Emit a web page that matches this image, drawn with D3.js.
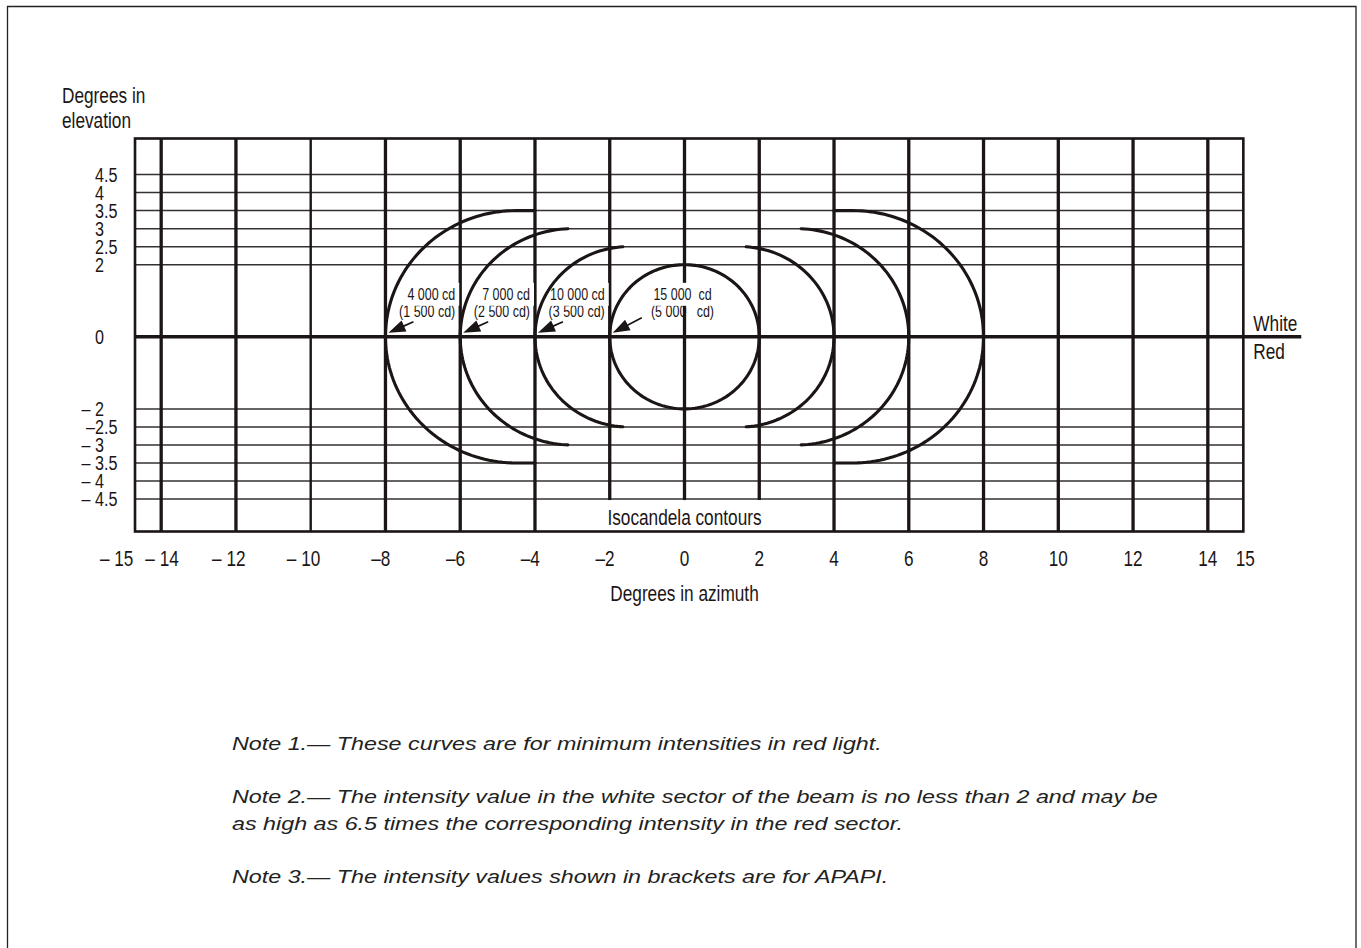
<!DOCTYPE html>
<html><head><meta charset="utf-8">
<script src="https://cdn.jsdelivr.net/npm/d3@7"></script>
<style>
html,body{margin:0;padding:0;background:#fff;}
svg{display:block;}
</style></head>
<body>
<svg id="chart" width="1361" height="948"></svg>
<script>
// ---------------- data ----------------
const azimuthTicks = [-15,-14,-12,-10,-8,-6,-4,-2,0,2,4,6,8,10,12,14,15];
const azimuthTickLabels = ["– 15","– 14","– 12","– 10","–8","–6","–4","–2","0","2","4","6","8","10","12","14","15"];
const azimuthGrid = [-14,-12,-10,-8,-6,-4,-2,0,2,4,6,8,10,12,14];
const elevationTicks = [-4.5,-4,-3.5,-3,-2.5,-2,0,2,2.5,3,3.5,4,4.5];
const elevationTickLabels = ["– 4.5","– 4","– 3.5","– 3","–2.5","– 2","0","2","2.5","3","3.5","4","4.5"];
const contourIntensity = ["4 000 cd","7 000 cd","10 000 cd","15 000  cd"];
const contourApapi = ["(1 500 cd)","(2 500 cd)","(3 500 cd)","(5 000   cd)"];
const contourCentre = [4.5, 3, 1.5, 0];   // |azimuth| of arc centre, degrees
const contourRadius = [3.5, 3, 2.5, 2];   // radius, degrees
const contourTip = [4, 3.12, 1.65, 0];    // |azimuth| where arc tips end
const notes = [
  "Note 1.— These curves are for minimum intensities in red light.",
  "Note 2.— The intensity value in the white sector of the beam is no less than 2 and may be",
  "as high as 6.5 times the corresponding intensity in the red sector.",
  "Note 3.— The intensity values shown in brackets are for APAPI."
];

// ---------------- layout ----------------
const W = 1361, H = 948;
const INK = "#1b1515";
const svg = d3.select("#chart");
svg.append("rect").attr("width", W).attr("height", H).attr("fill", "#fff");

// font detection (narrow face)
function measure(family, str, size) {
  const t = svg.append("text").attr("font-family", family).attr("font-size", size)
    .style("white-space", "pre").text(str);
  const w = t.node().getComputedTextLength(); t.remove(); return w;
}
const wN = measure("'Liberation Sans Narrow'", "Degrees in azimuth", 20);
const wR = measure("'Liberation Sans'", "Degrees in azimuth", 20);
const hasNarrow = wN < 0.9 * wR;
const NARROW = hasNarrow ? "'Liberation Sans Narrow', 'Arial Narrow', sans-serif" : "'Liberation Sans', Arial, sans-serif";
const baseF = hasNarrow ? 1 : 0.82;
function narrowWidth(str, size, squeeze = 1) { return measure(NARROW, str, size) * baseF * squeeze; }
// set narrow face; optional extra horizontal squeeze (taller, condensed look)
function narrow(sel, squeeze = 1) {
  sel.attr("font-family", NARROW);
  const f = baseF * squeeze;
  if (f !== 1) {
    sel.each(function () {
      const w = this.getComputedTextLength();
      d3.select(this).attr("textLength", w * f).attr("lengthAdjust", "spacingAndGlyphs");
    });
  }
  return sel;
}

const x = d3.scaleLinear().domain([-15, 15]).range([123.8, 1245.2]);
const y = d3.scaleLinear().domain([-5.4, 5.5]).range([531.5, 138.5]);
const boxL = x(-14.7), boxR = x(14.95), boxT = y(5.5), boxB = y(-5.4);

// outer frame
svg.append("path")
  .attr("d", `M7.5,${H} V6.5 H1356 V${H}`)
  .attr("fill", "none").attr("stroke", "#222").attr("stroke-width", 1.3);

// horizontal grid
svg.append("g").selectAll("line")
  .data(elevationTicks.filter(d => d !== 0)).join("line")
  .attr("x1", boxL).attr("x2", boxR)
  .attr("y1", d => y(d)).attr("y2", d => y(d))
  .attr("stroke", "#353131").attr("stroke-width", 1.5);

// contour label positions
const labelInfo = contourCentre.map((c, i) => {
  const r = contourRadius[i];
  const full = c === 0;
  const start = -(c + r);
  return {
    i, full, start,
    lx: full ? x(0) - 2 : x(start + 2) - 5,
    anchor: full ? "middle" : "end"
  };
});
const line1Y = y(0) - 37, line2Y = y(0) - 19.5;

// second label line (under the grid lines)
narrow(svg.append("g").selectAll("text").data(labelInfo).join("text")
  .attr("x", d => d.lx).attr("y", line2Y)
  .attr("text-anchor", d => d.anchor)
  .attr("font-size", 16).attr("fill", INK)
  .style("white-space", "pre")
  .text(d => contourApapi[d.i]), 0.95);

// vertical grid
svg.append("g").selectAll("line").data(azimuthGrid).join("line")
  .attr("x1", d => x(d)).attr("x2", d => x(d))
  .attr("y1", boxT).attr("y2", boxB)
  .attr("stroke", INK).attr("stroke-width", d => d === -10 ? 2.4 : 3.3);

// horizontal 0 line (White / Red boundary), extends beyond box
svg.append("line")
  .attr("x1", boxL).attr("x2", x(16.5)).attr("y1", y(0)).attr("y2", y(0))
  .attr("stroke", INK).attr("stroke-width", 3.6);

// first label line with knockouts behind it
const l1 = svg.append("g");
const l1text = narrow(l1.selectAll("text").data(labelInfo).join("text")
  .attr("x", d => d.lx).attr("y", line1Y)
  .attr("text-anchor", d => d.anchor)
  .attr("font-size", 16).attr("fill", INK)
  .style("white-space", "pre")
  .text(d => contourIntensity[d.i]), 0.95);
const knock = svg.insert("g", () => l1.node());
l1text.each(function () {
  const b = this.getBBox();
  knock.append("rect").attr("x", b.x - 4).attr("y", line1Y - 17)
    .attr("width", b.width + 8).attr("height", 23).attr("fill", "#fff");
});

// knockout band for the "Isocandela contours" caption
svg.append("rect")
  .attr("x", x(-3)).attr("width", x(3) - x(-3))
  .attr("y", y(-4.5) + 1).attr("height", boxB - y(-4.5) - 1)
  .attr("fill", "#fff");
svg.node().appendChild(l1.node());

// plot box
svg.append("rect")
  .attr("x", boxL).attr("y", boxT).attr("width", boxR - boxL).attr("height", boxB - boxT)
  .attr("fill", "none").attr("stroke", INK).attr("stroke-width", 2.6);

// contours (circular arcs in degree space)
const line = d3.line().x(d => x(d[0])).y(d => y(d[1]));
const arcs = svg.append("g").attr("fill", "none").attr("stroke", INK).attr("stroke-width", 3.1)
  .attr("stroke-linecap", "round");
contourCentre.forEach((c, i) => {
  const r = contourRadius[i], tip = contourTip[i];
  if (c === 0) {
    const pts = d3.range(0, 361, 2).map(a => [r * Math.cos(a * Math.PI / 180), r * Math.sin(a * Math.PI / 180)]);
    arcs.append("path").attr("d", line(pts));
    return;
  }
  const t0 = tip > c ? Math.acos((c - tip) / r) * 180 / Math.PI : 90;
  [-1, 1].forEach(s => {
    const pts = [];
    if (tip < c) pts.push([s * tip, r]);
    d3.range(t0, 360 - t0 + 0.001, 2).concat([360 - t0]).forEach(a => {
      const t = a * Math.PI / 180;
      pts.push([s * (c - r * Math.cos(t)), r * Math.sin(t)]);
    });
    if (tip < c) pts.push([s * tip, -r]);
    arcs.append("path").attr("d", line(pts));
  });
});

// arrows pointing at the arc/zero-line intersections
const arrows = svg.append("g");
labelInfo.forEach(d => {
  const tip = [x(d.start) + 3, y(0) - 4];
  const tail = d.full ? [x(d.start) + 32, y(0) - 19] : [x(d.start) + 28, y(0) - 15];
  const dx = tip[0] - tail[0], dy = tip[1] - tail[1], L = Math.hypot(dx, dy);
  const ux = dx / L, uy = dy / L, hl = 17, hw = 6;
  const bx = tip[0] - ux * hl, by = tip[1] - uy * hl;
  arrows.append("line").attr("x1", tail[0]).attr("y1", tail[1]).attr("x2", bx + ux).attr("y2", by + uy)
    .attr("stroke", INK).attr("stroke-width", 1.7);
  arrows.append("path")
    .attr("d", `M${tip[0]},${tip[1]} L${bx - uy * hw},${by + ux * hw} L${bx + uy * hw},${by - ux * hw} Z`)
    .attr("fill", INK);
});

// x tick labels: number centred on tick, minus sign hanging to the left
const xl = svg.append("g").attr("fill", INK);
const XFS = 22.5, XSQ = 0.93;
let prevRight = -Infinity;
azimuthTicks.forEach((v, i) => {
  const m = azimuthTickLabels[i].match(/^(–\s?)?(.*)$/);
  const sw = m[1] ? narrowWidth(m[1], XFS, XSQ) : 0;
  const nw = narrowWidth(m[2], XFS, XSQ);
  let left = x(v) - nw / 2 - sw;
  if (m[1] && left < prevRight + 12) left = prevRight + 12;
  narrow(xl.append("text").attr("x", left).attr("y", 565.5)
    .attr("font-size", XFS).style("white-space", "pre").text(azimuthTickLabels[i]), XSQ);
  prevRight = left + sw + nw;
});

// y tick labels: digits left-aligned, minus sign hanging to the left
const yl = svg.append("g").attr("fill", INK);
const yDigitX = boxL - 40, YFS = 20.5, YSQ = 0.96;
elevationTicks.forEach((v, i) => {
  const lab = elevationTickLabels[i];
  const m = lab.match(/^(–\s?)?(.*)$/);
  const sw = m[1] ? narrowWidth(m[1], YFS, YSQ) : 0;
  narrow(yl.append("text").attr("x", yDigitX - sw).attr("y", y(v)).attr("dy", "0.36em")
    .attr("font-size", YFS).style("white-space", "pre").text(lab), YSQ);
});

// axis titles and other labels
const titles = svg.append("g").attr("fill", INK).attr("font-size", 22);
const TSQ = 0.955;
narrow(titles.append("text").attr("x", 62).attr("y", 103).text("Degrees in"), TSQ);
narrow(titles.append("text").attr("x", 62).attr("y", 128).text("elevation"), TSQ);
narrow(titles.append("text").attr("x", x(0)).attr("y", 600.5).attr("text-anchor", "middle").text("Degrees in azimuth"), TSQ);
narrow(titles.append("text").attr("x", x(0)).attr("y", boxB - 6.5).attr("text-anchor", "middle").text("Isocandela contours"), TSQ);
narrow(titles.append("text").attr("x", boxR + 10).attr("y", y(0) - 6).text("White"), TSQ);
narrow(titles.append("text").attr("x", boxR + 10).attr("y", y(0) + 22.5).text("Red"), TSQ);

// notes
const noteY = [750, 803, 830, 883];
const ng = svg.append("g").attr("fill", "#222").attr("font-family", "'Liberation Sans', Arial, sans-serif")
  .attr("font-style", "italic").attr("font-size", 18.8);
notes.forEach((t, i) => {
  const tx = ng.append("text").attr("x", 232).attr("y", noteY[i]).text(t);
  const w = tx.node().getComputedTextLength();
  tx.attr("textLength", w * 1.24).attr("lengthAdjust", "spacingAndGlyphs");
});
</script>
</body></html>
